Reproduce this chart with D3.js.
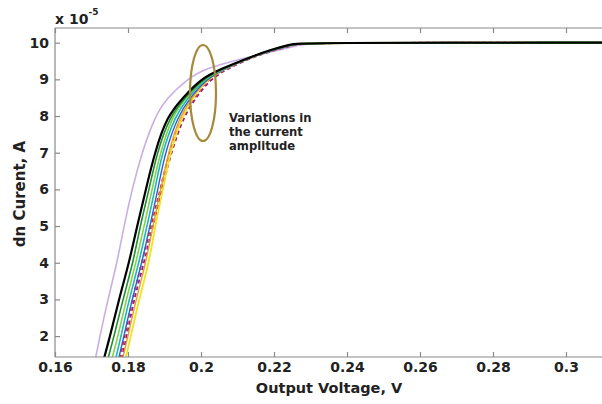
<!DOCTYPE html>
<html><head><meta charset="utf-8">
<script src="https://cdn.jsdelivr.net/npm/d3@7"></script>
<style>
html,body{margin:0;padding:0;background:#fff;}
svg{display:block;font-family:"DejaVu Sans",Verdana,sans-serif;}
</style></head>
<body><svg id="c" width="602" height="404"></svg>
<script>
// Current levels (x 10^-5 A)
const levels = [1.2, 2, 3, 4, 5, 6, 7, 8, 8.5, 9, 9.3, 9.6, 9.8, 9.95, 10, 10];
// Output voltage (V) of each curve at those levels (last point = flat end at 10)
const lavender  = [0.1707,0.1723,0.1745,0.1770,0.1789,0.1811,0.1838,0.1874,0.1907,0.1962,0.2011,0.2126,0.2216,0.2271,0.2326,0.31];
const magentaDash=[0.1778,0.1797,0.1816,0.1844,0.1868,0.1893,0.1918,0.1953,0.1986,0.2025,0.2074,0.2140,0.2203,0.2258,0.2299,0.31];
const redDash   = [0.1773,0.1792,0.1811,0.1838,0.1863,0.1888,0.1912,0.1948,0.1981,0.2019,0.2068,0.2137,0.2200,0.2255,0.2293,0.31];
const yellow    = [0.1789,0.1808,0.1830,0.1858,0.1874,0.1896,0.1915,0.1948,0.1978,0.2016,0.2066,0.2134,0.2195,0.2249,0.2285,0.31];
const orange    = [0.1781,0.1800,0.1822,0.1849,0.1868,0.1890,0.1910,0.1942,0.1975,0.2014,0.2066,0.2137,0.2197,0.2252,0.2285,0.31];
const blue      = [0.1770,0.1789,0.1811,0.1838,0.1860,0.1882,0.1901,0.1937,0.1970,0.2014,0.2066,0.2137,0.2197,0.2252,0.2279,0.31];
const cyan      = [0.1762,0.1781,0.1803,0.1830,0.1852,0.1874,0.1893,0.1929,0.1964,0.2008,0.2063,0.2134,0.2195,0.2249,0.2277,0.31];
const lightGreen= [0.1751,0.1773,0.1795,0.1822,0.1844,0.1866,0.1888,0.1921,0.1959,0.2005,0.2063,0.2134,0.2192,0.2247,0.2277,0.31];
const darkGreen = [0.1740,0.1762,0.1786,0.1814,0.1833,0.1858,0.1879,0.1915,0.1956,0.2003,0.2060,0.2134,0.2192,0.2247,0.2274,0.31];
const black     = [0.1729,0.1751,0.1775,0.1803,0.1825,0.1849,0.1873,0.1907,0.1951,0.1997,0.2058,0.2134,0.2189,0.2244,0.2271,0.31];

const xTicks = [0.16,0.18,0.2,0.22,0.24,0.26,0.28,0.3];
const xTickLabels = ["0.16","0.18","0.2","0.22","0.24","0.26","0.28","0.3"];
const yTicks = [2,3,4,5,6,7,8,9,10];
const yTickLabels = ["2","3","4","5","6","7","8","9","10"];

const series = [
  {v: lavender,   c: "#c9aee6", w: 1.6, d: null},
  {v: magentaDash,c: "#9b1c8c", w: 1.8, d: "4,3"},
  {v: redDash,    c: "#d42a2a", w: 1.6, d: "4,3"},
  {v: yellow,     c: "#f1e31c", w: 1.8, d: null},
  {v: orange,     c: "#e89a2c", w: 1.4, d: null},
  {v: blue,       c: "#2d5fd0", w: 1.4, d: null},
  {v: cyan,       c: "#1fb3c4", w: 1.6, d: null},
  {v: lightGreen, c: "#7fd34a", w: 1.6, d: null},
  {v: darkGreen,  c: "#1f8f2f", w: 1.6, d: null},
  {v: black,      c: "#000000", w: 2.2, d: null}
];

const L = 55, R = 602.5, T = 28, B = 357;
const x = d3.scaleLinear().domain([0.16, 0.31]).range([L, R]);
const y = d3.scaleLinear().domain([1.43, 10.4]).range([B, T]);
const FONT = "'DejaVu Sans',Verdana,sans-serif";

const svg = d3.select("#c");
svg.append("defs").append("clipPath").attr("id","clip")
  .append("rect").attr("x",L).attr("y",T).attr("width",R-L).attr("height",B-T);

const g = svg.append("g").attr("clip-path","url(#clip)");
const line = d3.line().x(d=>x(d[0])).y(d=>y(d[1])).curve(d3.curveBasis);
series.forEach(s=>{
  g.append("path").datum(s.v.map((vx,i)=>[vx, levels[i]]))
    .attr("d", line).attr("fill","none").attr("stroke", s.c)
    .attr("stroke-width", s.w).attr("stroke-dasharray", s.d)
    .attr("stroke-linejoin","round");
});

// frame
const frame = svg.append("g").attr("stroke","#8a8a8a").attr("stroke-width",1.2).attr("fill","none");
frame.append("line").attr("x1",L).attr("x2",602).attr("y1",T).attr("y2",T);
frame.append("line").attr("x1",L).attr("x2",602).attr("y1",B).attr("y2",B);
frame.append("line").attr("x1",L).attr("x2",L).attr("y1",T).attr("y2",B);

// axes with inward ticks
const xb = svg.append("g").attr("transform",`translate(0,${B})`)
  .call(d3.axisBottom(x).tickValues(xTicks).tickSize(-5).tickPadding(5)
        .tickFormat((d,i)=>xTickLabels[i]));
const xt = svg.append("g").attr("transform",`translate(0,${T})`)
  .call(d3.axisTop(x).tickValues(xTicks).tickSize(-5).tickFormat(""));
const yl = svg.append("g").attr("transform",`translate(${L},0)`)
  .call(d3.axisLeft(y).tickValues(yTicks).tickSize(-5).tickPadding(6)
        .tickFormat((d,i)=>yTickLabels[i]));
[xb,xt,yl].forEach(a=>{
  a.select(".domain").remove();
  a.selectAll(".tick line").attr("stroke","#8a8a8a").attr("stroke-width",1.2);
  a.selectAll(".tick text").attr("fill","#222").attr("font-size",14).attr("font-weight","bold")
    .attr("font-family",FONT);
});

// multiplier
const mt = svg.append("text").attr("x",55).attr("y",24).attr("fill","#222")
  .attr("font-size",14).attr("font-weight","bold").attr("font-family",FONT);
mt.append("tspan").text("x 10");
mt.append("tspan").attr("dy",-9).attr("font-size",9).text("-5");

// axis titles
svg.append("text").attr("x",329).attr("y",393).attr("text-anchor","middle")
  .attr("font-size",14.5).attr("font-weight","bold").attr("fill","#222").attr("font-family",FONT)
  .text("Output Voltage, V");
svg.append("text").attr("transform","translate(25,194) rotate(-90)").attr("text-anchor","middle")
  .attr("font-size",15).attr("font-weight","bold").attr("fill","#222").attr("font-family",FONT)
  .text("dn Curent, A");

// annotation
svg.append("ellipse").attr("cx",203).attr("cy",93).attr("rx",13).attr("ry",48)
  .attr("fill","none").attr("stroke","#a58a3a").attr("stroke-width",2.2);
const ann = ["Variations in","the current","amplitude"];
ann.forEach((t,i)=>{
  svg.append("text").attr("x",229).attr("y",122+i*14).attr("font-size",11.6)
    .attr("font-weight","bold").attr("fill","#222").attr("font-family",FONT).text(t);
});
</script></body></html>
